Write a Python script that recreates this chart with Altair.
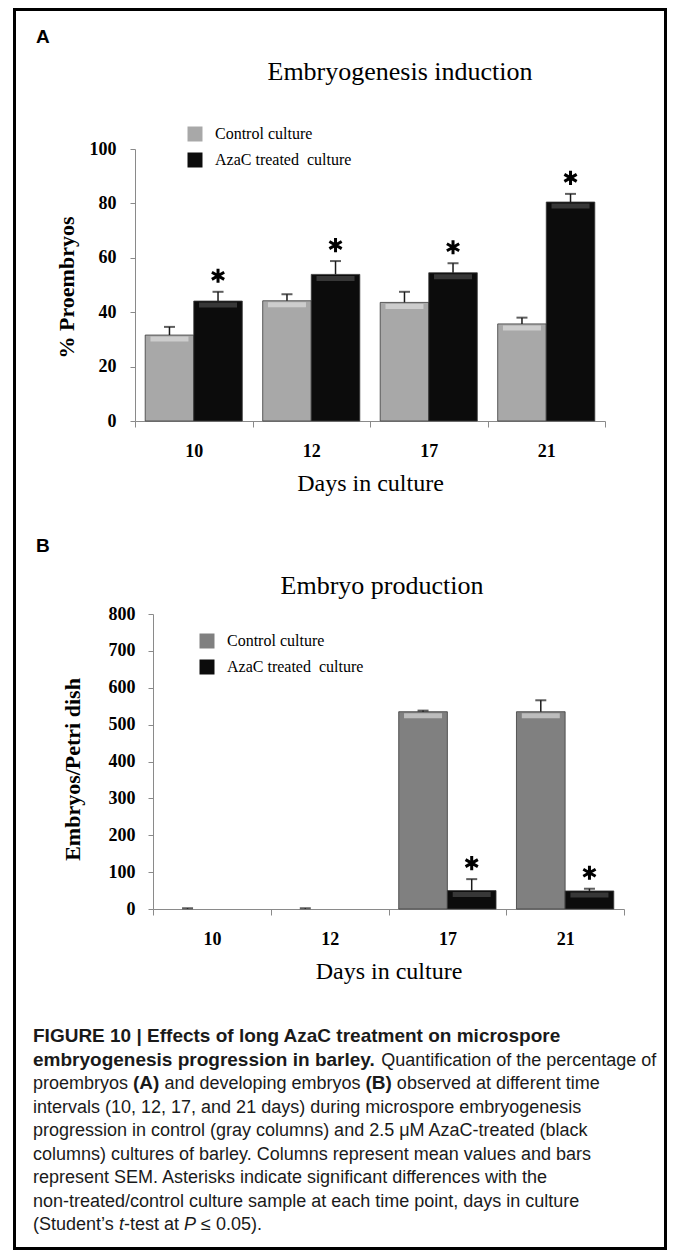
import altair as alt
import pandas as pd

# ---------------- data ----------------
days = ["10", "12", "17", "21"]
series = ["Control culture", "AzaC treated\u00a0 culture"]

# Panel A: % proembryos (mean, SEM)
proembryo_control = [31.6, 44.2, 43.6, 35.7]
proembryo_control_sem = [3.0, 2.4, 3.9, 2.3]
proembryo_azac = [44.1, 53.9, 54.5, 80.5]
proembryo_azac_sem = [3.4, 4.9, 3.5, 3.0]
proembryo_signif = [True, True, True, True]
proembryo_ticks = [0, 20, 40, 60, 80, 100]

# Panel B: embryos per Petri dish (mean, SEM)
embryo_control = [0, 0, 535, 535]
embryo_control_sem = [2, 2, 3, 31]
embryo_azac = [0, 0, 50, 49]
embryo_azac_sem = [0, 0, 31, 6]
embryo_signif = [False, False, True, True]
embryo_ticks = [0, 100, 200, 300, 400, 500, 600, 700, 800]

caption_lines = [
    [("FIGURE 10 | Effects of long AzaC treatment on microspore", "bold")],
    [("embryogenesis progression in barley.", "bold"), (" Quantification of the percentage of", "normal")],
    [("proembryos ", "normal"), ("(A)", "bold"), (" and developing embryos ", "normal"), ("(B)", "bold"),
     (" observed at different time", "normal")],
    [("intervals (10, 12, 17, and 21 days) during microspore embryogenesis", "normal")],
    [("progression in control (gray columns) and 2.5 \u03bcM AzaC-treated (black", "normal")],
    [("columns) cultures of barley. Columns represent mean values and bars", "normal")],
    [("represent SEM. Asterisks indicate significant differences with the", "normal")],
    [("non-treated/control culture sample at each time point, days in culture", "normal")],
    [("(Student\u2019s ", "normal"), ("t", "italic"), ("-test at ", "normal"), ("P", "italic"),
     (" \u2264 0.05).", "normal")],
]

SERIF = "Liberation Serif"
SANS = "Liberation Sans"
CAP_REG = 18
CAP_BOLD = 19

# Arial / Liberation Sans advance widths (per 1000 em) for placing caption runs
REG = dict(zip("abcdefghijklmnopqrstuvwxyz",
               [556, 556, 500, 556, 556, 278, 556, 556, 222, 222, 500, 222, 833, 556, 556, 556, 556, 333, 500, 278,
                556, 500, 722, 500, 500, 500]))
REG.update(dict(zip("ABCDEFGHIJKLMNOPQRSTUVWXYZ",
                    [667, 667, 722, 722, 667, 611, 778, 722, 278, 500, 667, 556, 833, 722, 778, 667, 778, 722, 667,
                     611, 722, 667, 944, 667, 667, 611])))
REG.update({" ": 278, "(": 333, ")": 333, ".": 278, ",": 278, "-": 333, "\u2019": 222, "|": 260, "/": 278,
            "\u2264": 549, "\u03bc": 576})
BOLD = dict(zip("abcdefghijklmnopqrstuvwxyz",
                [556, 611, 556, 611, 556, 333, 611, 611, 278, 278, 556, 278, 889, 611, 611, 611, 611, 389, 556, 333,
                 611, 556, 778, 556, 556, 500]))
BOLD.update(dict(zip("ABCDEFGHIJKLMNOPQRSTUVWXYZ",
                     [722, 722, 722, 722, 667, 611, 778, 722, 278, 556, 722, 611, 833, 722, 778, 667, 778, 722, 667,
                      611, 722, 667, 944, 667, 667, 611])))
BOLD.update({" ": 278, "(": 333, ")": 333, ".": 278, ",": 278, "-": 333, "|": 280, "\u2019": 278})


def run_width(s, style):
    table = BOLD if style == "bold" else REG
    size = CAP_BOLD if style == "bold" else CAP_REG
    return sum(table.get(ch, 556) for ch in s) * size / 1000.0


def make_df(ctrl, ctrl_sem, aza, aza_sem, sig):
    rows = []
    for i, d in enumerate(days):
        rows.append({"day": d, "series": series[0], "value": ctrl[i], "upper": ctrl[i] + ctrl_sem[i], "sig": False})
        rows.append({"day": d, "series": series[1], "value": aza[i], "upper": aza[i] + aza_sem[i],
                     "sig": bool(sig[i])})
    return pd.DataFrame(rows)


STAR = "M0,-1L0,1M-0.87,-0.5L0.87,0.5M-0.87,0.5L0.87,-0.5"


def blank():
    return alt.Chart(alt.Data(values=[{}]))


def panel(df, ymax, ticks, colors, height, x_range, y_offset, ytitle, ytitle_x, ytitle_y, leg_x, leg_y,
          label_pad):
    xscale = alt.Scale(paddingInner=0, paddingOuter=0, range=x_range)
    xaxis = alt.Axis(title="Days in culture", labelAngle=0, tickBand="extent", domainColor="#8a8a8a",
                     tickColor="#8a8a8a", tickSize=6, labelPadding=15, labelFont=SERIF, labelFontWeight="bold",
                     labelFontSize=18, labelColor="black", titleFont=SERIF, titleFontSize=24,
                     titleFontWeight="normal", titleColor="black", titleY=69, titleBaseline="alphabetic")
    yaxis = alt.Axis(title=ytitle, values=ticks, grid=False, domainColor="#8a8a8a", tickColor="#8a8a8a",
                     tickSize=5, labelPadding=label_pad, labelFont=SERIF, labelFontWeight="bold",
                     labelFontSize=18, labelColor="black", titleFont=SERIF, titleFontSize=22,
                     titleFontWeight="bold", titleColor="black", titleAngle=270, titleAlign="center",
                     titleBaseline="middle", titleX=ytitle_x, titleY=ytitle_y, offset=y_offset)
    yscale = alt.Scale(domain=[0, ymax], nice=False)

    def X():
        return alt.X("day:N", sort=days, scale=xscale, axis=xaxis)

    def XO():
        return alt.XOffset("series:N", sort=series,
                           scale=alt.Scale(domain=series, paddingInner=0, paddingOuter=0.21))

    def Y(field):
        return alt.Y(f"{field}:Q", scale=yscale, axis=yaxis)

    color = alt.Color("series:N", sort=series, scale=alt.Scale(domain=series, range=colors), title=None,
                      legend=alt.Legend(orient="none", legendX=leg_x, legendY=leg_y, direction="vertical",
                                        symbolType="square", symbolSize=225, symbolStrokeWidth=0, padding=0,
                                        labelFont=SERIF, labelFontSize=16, labelColor="black", rowPadding=10,
                                        labelOffset=12))
    base = alt.Chart(df)
    shown = base.transform_filter("datum.value > 0")
    bars = shown.mark_bar(stroke="#3a3a3a", strokeWidth=0.8).encode(x=X(), xOffset=XO(), y=Y("value"),
                                                                     color=color)
    hilite = shown.mark_tick(thickness=5, size=38, opacity=0.6).encode(
        x=X(), xOffset=XO(), y=Y("value"), yOffset=alt.value(4),
        color=alt.condition(f"datum.series == '{series[0]}'", alt.value("#e6e6e6"), alt.value("#555555")))
    errs = base.transform_filter("datum.upper > datum.value")
    rules = errs.mark_rule(color="#1a1a1a", strokeWidth=1.5).encode(x=X(), xOffset=XO(), y=Y("value"),
                                                                    y2="upper:Q")
    caps = errs.mark_tick(color="#1a1a1a", thickness=2, size=11).encode(x=X(), xOffset=XO(), y=Y("upper"))
    stars = base.transform_filter("datum.sig").mark_point(shape=STAR, filled=False, stroke="black",
                                                          strokeWidth=3, size=200, opacity=1).encode(
        x=X(), xOffset=XO(), y=Y("upper"), yOffset=alt.value(-16))
    return [bars, hilite, rules, caps, stars]


# ---------------- panel A (view origin = page (135,149)) ----------------
dfA = make_df(proembryo_control, proembryo_control_sem, proembryo_azac, proembryo_azac_sem, proembryo_signif)
layersA = panel(dfA, 100, proembryo_ticks, ["#a8a8a8", "#0c0c0c"], 272, [0, 470], 0,
                "% Proembryos", -69, 138, 52, -23, 14)

ox, oy = 135, 149
layersA.append(blank().mark_text(text="A", font=SANS, fontWeight="bold", fontSize=19, align="left",
                                 baseline="alphabetic", color="black").encode(
    x=alt.value(36 - ox), y=alt.value(43 - oy)))
layersA.append(blank().mark_text(text="Embryogenesis induction", font=SERIF, fontSize=26, align="center",
                                 baseline="alphabetic", color="black").encode(
    x=alt.value(400 - ox), y=alt.value(80 - oy)))
# figure frame
layersA.append(blank().mark_rect(fill="transparent", stroke="black", strokeWidth=3).encode(
    x=alt.value(14.5 - ox), x2=alt.value(665.5 - ox), y=alt.value(9.5 - oy), y2=alt.value(1248.5 - oy)))
# caption
for i, line in enumerate(caption_lines):
    xpos = 33.0
    ypos = 1042 + 23.5 * i
    for txt, style in line:
        stripped = txt.lstrip(" ")
        lead = run_width(txt[:len(txt) - len(stripped)], style)
        layersA.append(blank().mark_text(
            text=stripped.rstrip(" "), font=SANS, fontSize=CAP_BOLD if style == "bold" else CAP_REG,
            fontWeight="bold" if style == "bold" else "normal",
            fontStyle="italic" if style == "italic" else "normal",
            align="left", baseline="alphabetic", color="#1a1a1a").encode(
            x=alt.value(xpos + lead - ox), y=alt.value(ypos - oy)))
        xpos += run_width(txt, style)

panelA = alt.layer(*layersA).properties(width=470, height=272)

# ---------------- panel B (view origin = page (135,614); axis at 153) ----------------
dfB = make_df(embryo_control, embryo_control_sem, embryo_azac, embryo_azac_sem, embryo_signif)
layersB = panel(dfB, 800, embryo_ticks, ["#808080", "#0c0c0c"], 295, [18, 489], -18,
                "Embryos/Petri dish", -81, 155, 64, 19, 13)
oxb, oyb = 135, 614
layersB.append(blank().mark_text(text="B", font=SANS, fontWeight="bold", fontSize=19, align="left",
                                 baseline="alphabetic", color="black").encode(
    x=alt.value(36 - oxb), y=alt.value(552 - oyb)))
layersB.append(blank().mark_text(text="Embryo production", font=SERIF, fontSize=26, align="center",
                                 baseline="alphabetic", color="black").encode(
    x=alt.value(382 - oxb), y=alt.value(594 - oyb)))
panelB = alt.layer(*layersB).properties(width=489, height=295)

chart = alt.vconcat(panelA, panelB, spacing=193, bounds="flush").resolve_scale(
    color="independent", x="independent", y="independent", xOffset="independent"
).resolve_legend(color="independent").properties(
    padding={"left": 5, "top": 0, "right": 0, "bottom": 0}
).configure_view(strokeWidth=0)

chart.save("out.html", embed_options={"renderer": "svg", "actions": False})
